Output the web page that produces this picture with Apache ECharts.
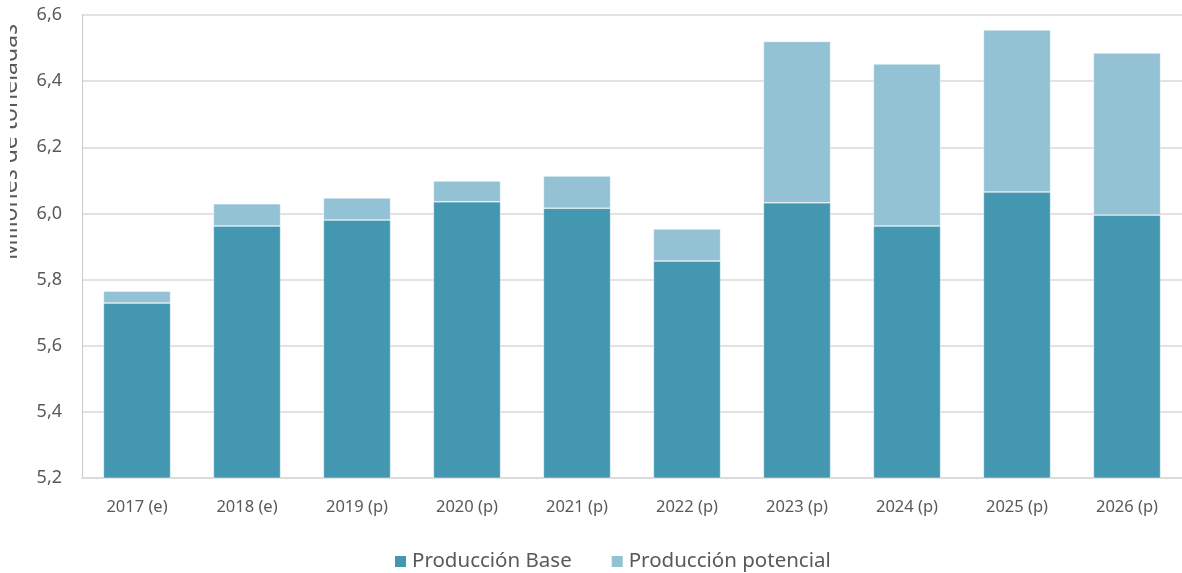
<!DOCTYPE html>
<html><head><meta charset="utf-8">
<script src="https://cdn.jsdelivr.net/npm/echarts@6/dist/echarts.min.js"></script>
<style>html,body{margin:0;padding:0;background:#fff}#c{width:1182px;height:573px}</style>
</head><body><div id="c"></div>
<script>
const categories = ['2017 (e)','2018 (e)','2019 (p)','2020 (p)','2021 (p)','2022 (p)','2023 (p)','2024 (p)','2025 (p)','2026 (p)'];
const produccionBase = [5.729, 5.962, 5.980, 6.035, 6.016, 5.856, 6.032, 5.962, 6.065, 5.995];
const produccionPotencial = [0.036, 0.067, 0.067, 0.063, 0.097, 0.097, 0.488, 0.490, 0.490, 0.490];
const yTitle = 'Millones de toneladas';
const seriesNames = ['Producción Base', 'Producción potencial'];

const font = 'Noto Sans';
const chart = echarts.init(document.getElementById('c'), null, {renderer:'canvas'});
chart.setOption({
  animation:false,
  grid:{left:82,right:0,top:15,bottom:95,containLabel:false},
  legend:{
    top:546,left:388,itemWidth:13,itemHeight:13,itemGap:38,icon:'rect',
    textStyle:{fontFamily:font,fontSize:20.5,color:'#595959'}
  },
  graphic:[{
    type:'text',x:10.5,y:142,rotation:Math.PI/2,z:10,
    style:{text:yTitle,fontFamily:font,fontSize:23,fill:'#595959',align:'center',verticalAlign:'middle'}
  },{
    type:'rect',shape:{x:0,y:0,width:10,height:280},z:11,
    style:{fill:'#ffffff'}
  }],
  xAxis:{
    type:'category',data:categories,
    axisLine:{lineStyle:{color:'#d9d9d9',width:1.5}},
    axisTick:{show:false},
    axisLabel:{fontFamily:font,fontSize:16.5,color:'#595959',margin:21}
  },
  yAxis:{
    type:'value',min:5.2,max:6.6,interval:0.2,
    axisLine:{show:true,lineStyle:{color:'#bfbfbf',type:'dotted',width:1}},
    splitLine:{lineStyle:{color:'#d9d9d9',width:1.5}},
    axisLabel:{fontFamily:font,fontSize:18,color:'#595959',margin:20,
      formatter:v=>v.toFixed(1).replace('.',',')}
  },
  series:[
    {name:seriesNames[0],type:'bar',stack:'t',data:produccionBase,barWidth:'61%',
     itemStyle:{color:'#4397B0',borderColor:'#ffffff',borderWidth:0.5}},
    {name:seriesNames[1],type:'bar',stack:'t',data:produccionPotencial,barWidth:'61%',
     itemStyle:{color:'#93C2D5',borderColor:'#ffffff',borderWidth:0.5}}
  ]
});
</script></body></html>
